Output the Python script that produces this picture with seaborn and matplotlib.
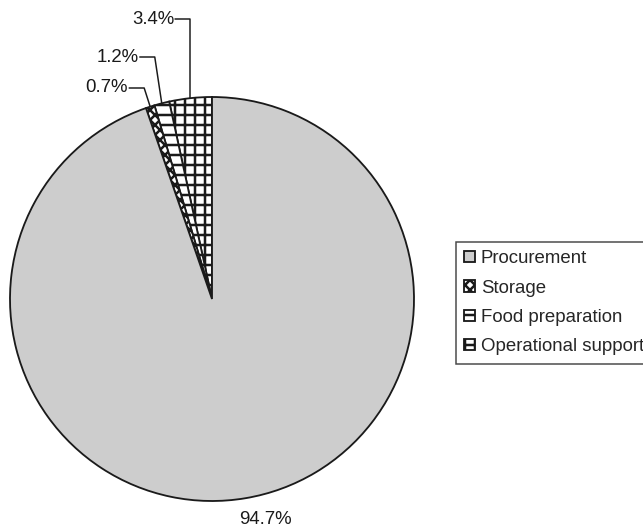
import numpy as np
import matplotlib
matplotlib.use("Agg")
import matplotlib.pyplot as plt
import seaborn as sns

# Share of activities (percent)
categories = ["Procurement", "Storage", "Food preparation", "Operational support"]
shares = [94.7, 0.7, 1.2, 3.4]
labels = ["94.7%", "0.7%", "1.2%", "3.4%"]

sns.set_theme(style="white")
plt.rcParams["font.family"] = ["Liberation Sans", "DejaVu Sans"]
plt.rcParams["hatch.linewidth"] = 1.5
plt.rcParams["hatch.color"] = "#1a1a1a"

DPI = 120
W, H = 643, 530
FS = 11.2
INK = "#1a1a1a"
fig = plt.figure(figsize=(W / DPI, H / DPI), dpi=DPI)
ax = fig.add_axes([0, 0, 1, 1])

cx, cy, r = 212, 231, 202
faces = ["#cdcdcd", "white", "white", "white"]
hatches = ["", "xxxx", "--", "++"]

# slices run counterclockwise from 12 o'clock: support, food prep, storage, procurement
order = [3, 2, 1, 0]
wedges, _ = ax.pie([shares[i] for i in order], center=(cx, cy), radius=r,
                   startangle=90, counterclock=True,
                   colors=[faces[i] for i in order],
                   wedgeprops=dict(edgecolor=INK, linewidth=1.1),
                   frame=True)
for w, i in zip(wedges, order):
    w.set_hatch(hatches[i])
ax.set_xlim(0, W)
ax.set_ylim(0, H)
ax.set_aspect("equal")
ax.axis("off")

# small-slice labels with elbow leader lines
label_y = {"Operational support": 511, "Food preparation": 473, "Storage": 442}
elbow_dx = {"Operational support": 0, "Food preparation": -7, "Storage": -6}
for w, i in zip(wedges, order):
    name = categories[i]
    mid = np.deg2rad((w.theta1 + w.theta2) / 2)
    ex, ey = cx + r * np.cos(mid), cy + r * np.sin(mid)
    if name in label_y:
        ly = label_y[name]
        tx = ex + elbow_dx[name]
        ax.plot([ex, tx, tx - 15], [ey, ly, ly], color=INK, lw=0.9)
        ax.text(tx - 16, ly, labels[i], ha="right", va="center", fontsize=FS,
                color=INK)
    else:
        ax.text(ex - 6, cy - r - 19, labels[i], ha="left", va="center",
                fontsize=FS, color=INK)

# legend with hatched swatches
handles = [wedges[order.index(i)] for i in range(4)]
leg = fig.legend(handles, categories, loc="upper left",
                 bbox_to_anchor=(456 / W, 1 - 242 / H),
                 frameon=True, fancybox=False, edgecolor=INK,
                 fontsize=FS, handlelength=0.55, handleheight=0.55,
                 handletextpad=0.32, labelspacing=0.66, borderpad=0.45,
                 borderaxespad=0)
leg.get_frame().set_linewidth(0.9)

fig.savefig("out.png", dpi=DPI, facecolor="white")
